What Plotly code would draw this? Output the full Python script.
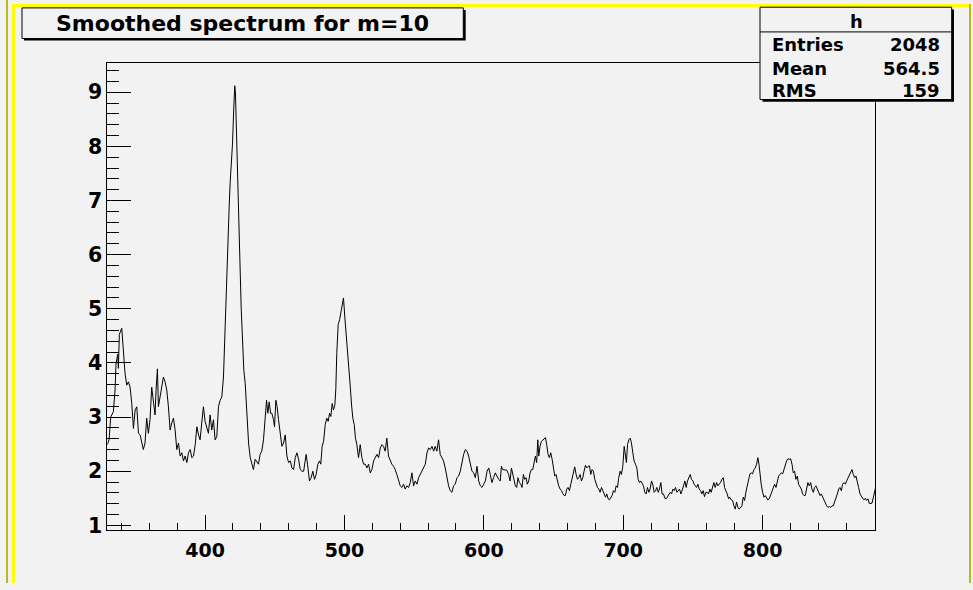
import plotly.graph_objects as go

# ---------------- data ----------------
ch_a = [329.9, 331.1, 332.3, 334.2, 335.4, 336.1, 337.3, 337.8, 338.5, 340.2,
        341.4, 342.6, 343.8, 345.0, 346.2, 347.4, 348.6, 349.8, 351.0, 352.2,
        353.4, 354.6, 355.7, 356.9, 358.1, 359.3, 360.5, 361.7, 362.9, 364.1,
        364.8, 365.8, 366.5, 367.7, 368.9, 370.1, 371.3, 372.5, 373.7, 374.9,
        376.1, 377.3, 378.5, 379.7, 380.9, 382.1, 383.3, 384.5, 385.7, 386.9,
        388.1, 389.3, 390.5, 391.7, 392.9, 394.1, 395.3, 396.4, 397.6, 398.8,
        400.0, 401.2, 402.4, 403.6, 404.8, 406.0, 407.2, 408.4, 409.6, 410.8,
        412.0, 413.2, 413.9, 414.9, 415.6, 416.3, 417.3, 418.0, 418.7, 419.7,
        420.6, 421.3, 421.8, 422.8, 423.5, 424.5, 425.2, 425.9, 426.8, 427.8,
        428.8, 430.0, 431.2, 432.4, 433.6, 434.7, 435.9, 437.1, 438.3, 439.5,
        440.7, 441.9, 443.1, 444.1, 445.0, 446.0, 447.0, 447.9, 449.1, 449.8,
        450.8, 451.7, 452.7, 453.9, 455.1, 456.3, 457.5, 458.7, 459.9, 461.1,
        462.3, 463.5, 464.7, 465.9, 467.1, 468.3, 469.5, 470.7, 471.8]
val_a = [2.49, 2.58, 3.0, 3.1, 3.5, 3.98, 4.16, 3.9, 4.53, 4.64,
         4.22, 3.8, 3.59, 3.65, 3.55, 3.25, 2.79, 3.13, 3.19, 2.7,
         2.67, 2.55, 2.4, 2.52, 2.98, 2.7, 2.95, 3.55, 3.31, 3.04,
         3.49, 3.89, 3.19, 3.37, 3.55, 3.74, 3.65, 3.5, 3.19, 2.76,
         2.89, 2.98, 2.76, 2.4, 2.52, 2.28, 2.34, 2.19, 2.28, 2.16,
         2.34, 2.4, 2.25, 2.28, 2.49, 2.82, 2.67, 2.58, 2.89, 3.19,
         2.92, 2.79, 2.7, 3.04, 2.76, 2.95, 2.58, 2.64, 3.19, 3.31,
         3.37, 3.74, 4.35, 4.89, 5.68, 6.29, 6.9, 7.33, 7.63, 8.06,
         8.73, 9.12, 8.97, 8.12, 7.2, 6.23, 5.68, 5.01, 4.28, 3.86,
         3.62, 3.0, 2.52, 2.25, 2.13, 2.03, 2.22, 2.16, 2.13, 2.31,
         2.37, 2.58, 3.0, 3.31, 3.07, 3.28, 3.07, 3.07, 2.95, 2.82,
         3.31, 3.19, 2.95, 2.64, 2.46, 2.52, 2.67, 2.28, 2.16, 2.19,
         2.06, 2.03, 2.25, 2.34, 2.22, 2.03, 2.0, 2.0, 2.19]

ch_b = [472.5, 473.5, 474.9, 476.1, 477.3, 478.5, 479.7, 480.9, 482.1, 483.0,
        484.0, 485.0, 486.2, 487.3, 488.3, 489.3, 490.2, 491.2, 492.1, 493.1,
        493.8, 494.5, 495.5, 496.5, 497.4, 498.4, 499.3, 500.3, 501.2, 502.2,
        503.2, 504.1, 505.1, 506.0, 507.0, 507.9, 508.9, 510.1, 511.3, 512.5,
        513.7, 514.9, 516.1, 517.3, 518.5, 519.7, 520.9, 522.1, 523.3, 524.5,
        525.7, 526.9, 528.0, 529.2, 530.4, 531.6, 532.8, 534.0, 535.2, 536.4,
        537.6, 538.8, 540.0, 541.2, 542.4, 543.6, 544.8, 546.0, 547.2, 548.4,
        549.6, 550.8, 552.0, 553.2, 554.4, 555.6, 556.8, 558.0, 559.2, 560.4,
        561.6, 562.8, 564.0, 565.1, 566.3, 567.5, 568.7, 569.9, 571.1, 572.3,
        573.5, 574.7, 575.9, 577.1, 578.3, 579.5, 580.7, 581.9, 583.1, 584.3,
        585.5, 586.7, 587.9, 589.1, 590.3, 591.5, 592.7, 593.9, 595.1, 596.3,
        597.5, 598.7, 599.9, 601.1, 602.3, 603.5, 604.6, 605.8, 607.0, 608.2,
        609.4, 610.6, 611.8]
val_b = [2.31, 2.13, 1.82, 1.88, 2.0, 1.85, 1.94, 2.13, 2.19, 2.13,
         2.46, 2.55, 2.86, 2.98, 2.92, 3.07, 3.01, 3.25, 3.13, 3.22,
         3.52, 4.19, 4.71, 4.8, 4.92, 5.01, 5.2, 4.83, 4.56, 4.25,
         3.95, 3.59, 3.22, 2.98, 2.86, 2.61, 2.49, 2.25, 2.49, 2.25,
         2.13, 2.13, 2.06, 2.13, 1.97, 2.03, 2.19, 2.25, 2.31, 2.25,
         2.43, 2.49, 2.46, 2.37, 2.61, 2.28, 2.19, 2.13, 2.09, 2.03,
         1.94, 1.82, 1.73, 1.7, 1.76, 1.67, 1.73, 1.7, 1.79, 1.97,
         1.73, 1.82, 1.76, 1.88, 1.94, 2.03, 2.06, 2.13, 2.34, 2.43,
         2.4, 2.46, 2.37, 2.46, 2.37, 2.58, 2.31, 2.25, 2.19, 2.06,
         1.88, 1.73, 1.64, 1.61, 1.73, 1.76, 1.88, 1.91, 2.0, 2.19,
         2.31, 2.4, 2.37, 2.28, 2.13, 2.0, 1.97, 1.88, 2.09, 1.82,
         1.73, 1.7, 1.76, 1.82, 2.0, 2.06, 1.94, 1.79, 1.88, 1.97,
         1.91, 1.85, 1.82]

ch_c = [612.6, 613.5, 615.0, 616.4, 617.8, 618.8, 619.8, 620.7, 621.7, 622.6,
        623.6, 624.5, 625.5, 626.5, 627.4, 628.4, 629.3, 630.3, 631.2, 632.2,
        633.2, 634.1, 635.1, 636.0, 637.0, 637.9, 638.7, 639.4, 640.3, 641.3,
        642.3, 643.2, 644.2, 645.1, 646.1, 647.0, 648.0, 649.0, 649.9, 650.9,
        651.8, 652.8, 653.7, 654.7, 655.7, 656.6, 657.6, 658.5, 659.5, 660.4,
        661.4, 662.4, 663.3, 664.3, 665.2, 666.2, 667.2, 668.1, 669.1, 670.0,
        671.0, 671.9, 672.9, 673.9, 674.8, 675.8, 676.7, 677.7, 678.6, 679.6,
        680.6, 681.5, 682.5, 683.4, 684.4, 685.3, 686.3, 687.3, 688.2, 689.2,
        690.1, 691.1, 692.0, 693.0, 694.0, 694.9, 695.9, 696.8, 697.8, 698.7,
        699.7, 700.7, 701.6, 702.3, 703.1, 704.0, 705.0, 705.9, 706.9, 707.8,
        708.8, 709.8, 710.7, 711.7, 712.6, 713.6, 714.5, 715.5, 716.5, 717.4,
        718.4, 719.3, 720.3, 721.2, 722.2, 723.2, 724.1, 725.1, 726.0, 727.0,
        727.9, 728.9, 729.9, 730.8, 731.8, 732.7, 733.7, 734.7, 735.6, 736.6,
        737.5, 738.5, 739.4, 740.4, 741.4, 742.3, 743.3, 744.2, 745.2, 746.1,
        747.1, 748.1, 749.0, 750.0, 750.9, 751.9]
val_c = [2.09, 2.03, 2.02, 2.02, 1.94, 1.82, 2.06, 1.94, 1.79, 1.73,
         1.7, 1.88, 1.79, 1.76, 1.7, 1.94, 1.85, 1.88, 1.76, 1.82,
         1.97, 2.03, 2.03, 2.13, 2.28, 2.16, 2.58, 2.28, 2.46, 2.55,
         2.58, 2.61, 2.62, 2.49, 2.31, 2.25, 2.34, 2.22, 2.06, 1.91,
         1.94, 1.82, 1.73, 1.67, 1.64, 1.59, 1.55, 1.55, 1.67, 1.7,
         1.64, 1.76, 1.85, 1.94, 2.08, 1.94, 1.85, 1.88, 1.94, 1.82,
         1.88, 2.0, 2.11, 2.06, 2.09, 2.1, 1.94, 2.03, 2.0, 1.85,
         1.76, 1.7, 1.67, 1.61, 1.7, 1.64, 1.61, 1.52, 1.58, 1.49,
         1.47, 1.52, 1.55, 1.64, 1.61, 1.73, 1.7, 1.88, 2.0, 1.94,
         2.09, 2.46, 2.25, 2.16, 2.49, 2.58, 2.61, 2.52, 2.34, 2.19,
         2.13, 2.06, 1.85, 1.79, 1.82, 1.76, 1.73, 1.61, 1.58, 1.7,
         1.61, 1.67, 1.82, 1.76, 1.61, 1.64, 1.7, 1.61, 1.67, 1.79,
         1.58, 1.58, 1.5, 1.49, 1.53, 1.55, 1.61, 1.58, 1.67, 1.64,
         1.7, 1.61, 1.64, 1.67, 1.58, 1.64, 1.73, 1.82, 1.7, 1.82,
         1.88, 1.94, 1.85, 1.82, 1.76, 1.73]

ch_d = [752.6, 753.6, 754.5, 755.5, 756.4, 757.4, 758.3, 759.3, 760.3, 761.2,
        762.2, 763.1, 764.1, 765.0, 766.0, 767.0, 767.9, 768.9, 769.8, 770.8,
        771.8, 772.7, 773.7, 774.6, 775.6, 776.5, 777.5, 778.5, 779.4, 780.4,
        781.3, 782.3, 783.2, 784.2, 785.2, 786.1, 787.1, 788.0, 789.0, 789.9,
        790.9, 791.9, 792.8, 793.8, 794.7, 795.7, 796.6, 797.4, 798.1, 799.0,
        800.0, 801.0, 801.9, 802.9, 803.8, 804.8, 805.7, 806.7, 807.7, 808.6,
        809.6, 810.5, 811.5, 812.4, 813.4, 814.4, 815.3, 816.3, 817.2, 818.2,
        819.1, 820.1, 821.1, 822.0, 823.0, 823.9, 824.9, 825.8, 826.8, 827.8,
        828.7, 829.7, 830.6, 831.6, 832.5, 833.5, 834.5, 835.4, 836.4, 837.3,
        838.3, 839.3, 840.2, 841.2, 842.1, 843.1, 844.0, 845.0, 846.0, 846.9,
        847.9, 848.8, 849.8, 850.7, 851.7, 852.7, 853.6, 854.6, 855.5, 856.5,
        857.4, 858.4, 859.4, 860.3, 861.3, 862.2, 863.2, 864.1, 865.1, 866.1,
        867.0, 868.0, 868.9, 869.9, 870.9, 871.8, 872.8, 873.7, 874.7, 875.6,
        876.6, 877.5, 878.5, 879.5, 880.4, 881.1]
val_d = [1.7, 1.76, 1.67, 1.64, 1.58, 1.64, 1.53, 1.61, 1.61, 1.58,
         1.67, 1.61, 1.73, 1.79, 1.7, 1.79, 1.73, 1.76, 1.79, 1.85,
         1.88, 1.7, 1.64, 1.58, 1.49, 1.52, 1.47, 1.46, 1.36, 1.3,
         1.43, 1.33, 1.3, 1.33, 1.36, 1.52, 1.46, 1.61, 1.73, 1.88,
         1.95, 1.97, 1.95, 2.03, 2.06, 2.13, 2.25, 2.13, 1.94, 1.76,
         1.61, 1.52, 1.55, 1.49, 1.47, 1.49, 1.55, 1.61, 1.67, 1.76,
         1.7, 1.79, 1.91, 1.94, 1.97, 1.95, 2.03, 2.09, 2.19, 2.23,
         2.22, 2.23, 2.13, 1.97, 2.0, 1.85, 1.91, 1.76, 1.7, 1.67,
         1.58, 1.55, 1.55, 1.67, 1.79, 1.73, 1.79, 1.67, 1.61, 1.7,
         1.73, 1.67, 1.61, 1.55, 1.58, 1.52, 1.49, 1.43, 1.36, 1.33,
         1.35, 1.33, 1.36, 1.36, 1.43, 1.49, 1.58, 1.67, 1.7, 1.64,
         1.76, 1.79, 1.76, 1.82, 1.88, 1.91, 2.0, 2.03, 1.94, 1.88,
         1.91, 1.82, 1.7, 1.58, 1.52, 1.5, 1.47, 1.5, 1.46, 1.49,
         1.4, 1.4, 1.41, 1.52, 1.67, 1.7]

title_text = "Smoothed spectrum for m=10"
stats_name = "h"
stats_labels = ["Entries", "Mean", "RMS"]
stats_values = ["2048", "564.5", "159"]

channel = ch_a + ch_b + ch_c + ch_d
content = val_a + val_b + val_c + val_d

# ---------------- layout helpers (pixel -> paper) ----------------
W, H = 973, 590


def px(x):
    return x / W


def py(y):
    return 1 - y / H


BG = "#f2f2f2"
FONT = "DejaVu Sans"

fig = go.Figure()
fig.add_trace(go.Scatter(x=channel, y=content, mode="lines",
                         line=dict(color="black", width=1),
                         hoverinfo="skip", showlegend=False))

tick_common = dict(showgrid=False, zeroline=False, showline=True,
                   linecolor="black", linewidth=1, mirror=True,
                   ticks="inside", tickcolor="black", tickwidth=1)

fig.update_layout(
    width=W, height=H,
    margin=dict(l=0, r=0, t=0, b=0),
    paper_bgcolor=BG, plot_bgcolor=BG,
    showlegend=False,
    xaxis=dict(domain=[px(107.3), px(875.0)], range=[329.84, 880.65],
               dtick=100, tick0=0, ticklen=15, ticklabelstandoff=3,
               tickfont=dict(family=FONT, size=19, color="black", weight="bold"),
               minor=dict(dtick=20, tick0=0, ticks="inside", ticklen=7,
                          tickcolor="black", tickwidth=1, showgrid=False),
               **tick_common),
    yaxis=dict(domain=[py(536.7), py(64.0)], range=[0.908, 9.535],
               dtick=1, tick0=0, ticklen=24, ticklabelstandoff=0,
               tickfont=dict(family=FONT, size=20.5, color="black", weight="bold"),
               minor=dict(dtick=0.2, tick0=0, ticks="inside", ticklen=12,
                          tickcolor="black", tickwidth=1, showgrid=False),
               **tick_common),
)

shapes = []
# pad highlight border (olive + yellow)
OLIVE = "#b8b820"
YEL = "#ffff00"
shapes.append(dict(type="line", xref="paper", yref="paper", x0=px(7), x1=px(7), y0=py(0), y1=py(590),
                   line=dict(color=OLIVE, width=2), layer="above"))
shapes.append(dict(type="line", xref="paper", yref="paper", x0=px(13.5), x1=px(13.5), y0=py(5), y1=py(590),
                   line=dict(color=YEL, width=3), layer="above"))
shapes.append(dict(type="line", xref="paper", yref="paper", x0=px(12), x1=px(970), y0=py(5.5), y1=py(5.5),
                   line=dict(color=YEL, width=3), layer="above"))
shapes.append(dict(type="line", xref="paper", yref="paper", x0=px(970), x1=px(970), y0=py(4), y1=py(590),
                   line=dict(color=OLIVE, width=2), layer="above"))

# title box with shadow
shapes.append(dict(type="rect", xref="paper", yref="paper", x0=px(24), x1=px(465.7), y0=py(10), y1=py(41),
                   fillcolor="black", line=dict(width=0), layer="above"))
shapes.append(dict(type="rect", xref="paper", yref="paper", x0=px(22), x1=px(463.3), y0=py(8), y1=py(39),
                   fillcolor=BG, line=dict(color="black", width=1), layer="above"))
# stats box with shadow
shapes.append(dict(type="rect", xref="paper", yref="paper", x0=px(762.5), x1=px(954), y0=py(9.5), y1=py(103),
                   fillcolor="black", line=dict(width=0), layer="above"))
shapes.append(dict(type="rect", xref="paper", yref="paper", x0=px(760), x1=px(951.7), y0=py(7.3), y1=py(100.7),
                   fillcolor=BG, line=dict(color="black", width=1), layer="above"))
shapes.append(dict(type="line", xref="paper", yref="paper", x0=px(760), x1=px(951.7), y0=py(32.3), y1=py(32.3),
                   line=dict(color="black", width=1), layer="above"))
fig.update_layout(shapes=shapes)

ann = []
ann.append(dict(text=title_text, xref="paper", yref="paper", x=px(242.5), y=py(23.5),
                xanchor="center", yanchor="middle", showarrow=False,
                font=dict(family=FONT, size=22, color="black", weight="bold")))
ann.append(dict(text=stats_name, xref="paper", yref="paper", x=px(856), y=py(21.5),
                xanchor="center", yanchor="middle", showarrow=False,
                font=dict(family=FONT, size=18, color="black", weight="bold")))
row_y = [45.5, 69.5, 92]
for lab, val, yy in zip(stats_labels, stats_values, row_y):
    ann.append(dict(text=lab, xref="paper", yref="paper", x=px(770), y=py(yy),
                    xanchor="left", yanchor="middle", showarrow=False,
                    font=dict(family=FONT, size=18, color="black", weight="bold")))
    ann.append(dict(text=val, xref="paper", yref="paper", x=px(942), y=py(yy),
                    xanchor="right", yanchor="middle", showarrow=False,
                    font=dict(family=FONT, size=18, color="black", weight="bold")))
fig.update_layout(annotations=ann)

fig.write_html("out.html")
